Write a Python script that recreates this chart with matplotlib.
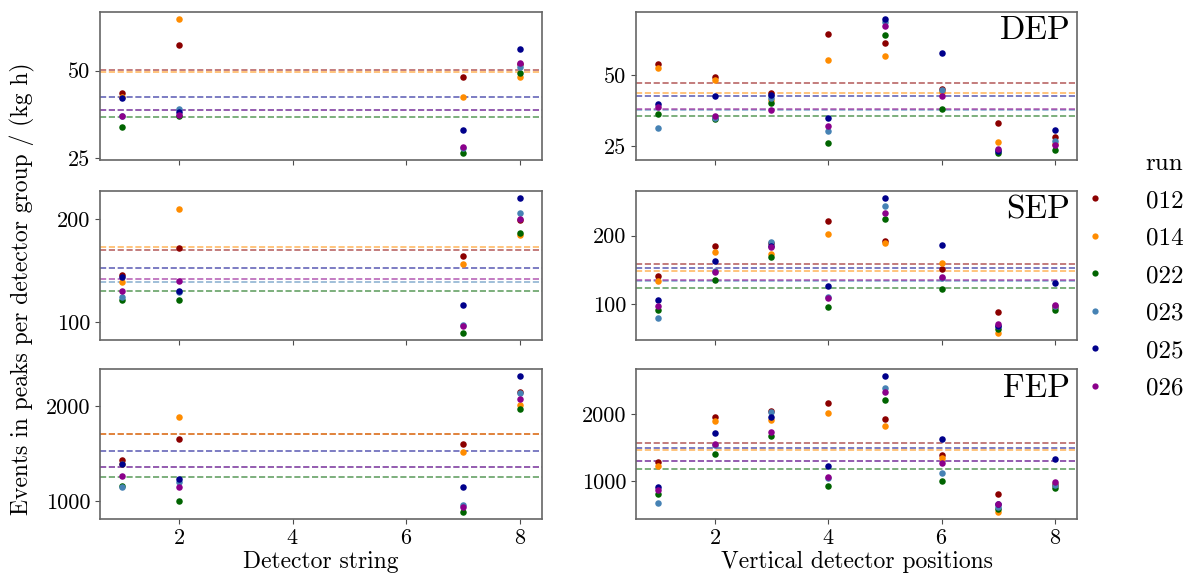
import numpy as np
import matplotlib
matplotlib.use("Agg")
import matplotlib.pyplot as plt
from matplotlib.lines import Line2D

plt.rcParams['font.family'] = 'serif'
plt.rcParams['font.serif'] = ['cmr10']
plt.rcParams['mathtext.fontset'] = 'cm'
plt.rcParams['axes.formatter.use_mathtext'] = True

runs = ['012', '014', '022', '023', '025', '026']
colors = ['#8B0000', '#FF8C00', '#006400', '#4682B4', '#00008B', '#8B008B']

strings = [1, 2, 7, 8]
positions = [1, 2, 3, 4, 5, 6, 7, 8]

# DEP per string
dep_string = {
    '012': [43.6, 57.3, 48.2, 52.0],
    '014': [42.4, 64.8, 42.6, 48.1],
    '022': [34.0, 36.9, 26.4, 49.2],
    '023': [37.0, 39.0, 28.0, 50.9],
    '025': [42.2, 38.1, 32.9, 56.2],
    '026': [37.1, 37.4, 28.2, 52.2],
}
# SEP per string
sep_string = {
    '012': [146.2, 172.3, 164.4, 199.5],
    '014': [139.6, 210.6, 156.4, 184.8],
    '022': [122.1, 121.8, 89.4, 186.8],
    '023': [124.8, 129.6, 97.7, 206.3],
    '025': [143.9, 130.7, 117.2, 221.1],
    '026': [130.7, 140.3, 96.0, 200.0],
}
# FEP per string
fep_string = {
    '012': [1437, 1656, 1599, 2147],
    '014': [1394, 1882, 1516, 2014],
    '022': [1159, 1004, 885, 1968],
    '023': [1151, 1204, 957, 2133],
    '025': [1387, 1237, 1151, 2315],
    '026': [1265, 1151, 943, 2075],
}
# DEP per vertical position
dep_pos = {
    '012': [53.7, 49.2, 43.6, 64.3, 61.2, 45.0, 33.1, 28.2],
    '014': [52.5, 48.3, 41.3, 55.2, 56.5, 43.9, 26.5, 26.0],
    '022': [36.4, 34.4, 40.0, 26.2, 63.8, 38.2, 22.6, 23.8],
    '023': [31.6, 35.0, 42.0, 30.3, 68.4, 44.8, 23.6, 27.0],
    '025': [39.9, 42.6, 42.8, 35.0, 69.6, 57.8, 23.5, 30.7],
    '026': [38.9, 35.7, 37.7, 32.1, 67.1, 42.5, 24.0, 25.6],
}
# SEP per vertical position
sep_pos = {
    '012': [140.9, 185.7, 190.0, 220.7, 192.1, 151.7, 89.7, 96.0],
    '014': [134.5, 175.9, 173.4, 202.5, 189.2, 160.1, 58.1, 97.0],
    '022': [91.6, 135.5, 169.5, 96.6, 223.6, 122.7, 64.5, 91.6],
    '023': [80.3, 148.0, 190.6, 111.3, 242.9, 138.4, 68.0, 97.0],
    '025': [105.9, 162.6, 185.5, 126.1, 255.2, 186.7, 69.0, 131.0],
    '026': [97.5, 147.8, 184.2, 109.9, 233.5, 140.4, 71.9, 99.0],
}
# FEP per vertical position
fep_pos = {
    '012': [1296, 1964, 2051, 2168, 1939, 1398, 806, 946],
    '014': [1224, 1903, 1923, 2015, 1832, 1347, 541, 967],
    '022': [806, 1413, 1673, 929, 2214, 1000, 587, 903],
    '023': [679, 1550, 2036, 1050, 2388, 1122, 622, 953],
    '025': [918, 1719, 1959, 1230, 2577, 1638, 657, 1342],
    '026': [872, 1556, 1735, 1061, 2342, 1276, 663, 995],
}

left_ticks = [[25, 50], [100, 200], [1000, 2000]]
right_ticks = [[25, 50], [100, 200], [1000, 2000]]
peak_names = ['DEP', 'SEP', 'FEP']

fig = plt.figure(figsize=(11.85, 5.77), dpi=100)

W, H = 1185, 577
rows = [(12, 160), (191, 340), (369, 519)]
cols = [(100, 542), (636, 1077)]

def make_ax(col, row):
    x0, x1 = cols[col]
    y0, y1 = rows[row]
    return fig.add_axes([x0 / W, 1 - y1 / H, (x1 - x0) / W, (y1 - y0) / H])

left_data = [dep_string, sep_string, fep_string]
right_data = [dep_pos, sep_pos, fep_pos]

def draw(ax, xs, data, ticks):
    for run, c in zip(runs, colors):
        vals = np.array(data[run], dtype=float)
        ax.scatter(xs, vals, s=22, color=c, zorder=3, linewidths=0)
        ax.axhline(vals.mean(), color=c, ls='--', lw=1.2, alpha=0.6, zorder=2)
    ax.set_yticks(ticks)
    ax.set_yticklabels([str(t) for t in ticks])
    ax.set_xlim(0.61, 8.39)
    ax.set_xticks([2, 4, 6, 8])
    ax.tick_params(labelsize=16, color='0.3', length=3.5)
    for sp in ax.spines.values():
        sp.set_color('0.4')
        sp.set_linewidth(1.2)

for r in range(3):
    axl = make_ax(0, r)
    draw(axl, strings, left_data[r], left_ticks[r])
    axr = make_ax(1, r)
    draw(axr, positions, right_data[r], right_ticks[r])
    axr.text(0.985, 0.97, peak_names[r], transform=axr.transAxes,
             ha='right', va='top', fontsize=24)
    if r < 2:
        axl.set_xticklabels([])
        axr.set_xticklabels([])
    else:
        axl.set_xlabel('Detector string', fontsize=17, labelpad=2)
        axr.set_xlabel('Vertical detector positions', fontsize=17, labelpad=2)

fig.text(0.019, 0.5, 'Events in peaks per detector group / (kg h)',
         rotation=90, ha='center', va='center', fontsize=17)

handles = [Line2D([], [], ls='', marker='o', markersize=4.5, color=c,
                  markeredgewidth=0) for c in colors]
leg = fig.legend(handles, runs, title='run', loc='center left',
                 bbox_to_anchor=(1072 / W, 1 - 276 / H), frameon=False,
                 fontsize=18, title_fontsize=18, labelspacing=0.6,
                 handlelength=1.0, handletextpad=1.55, borderaxespad=0)
leg._legend_box.align = 'right'

fig.savefig('out.png', dpi=100)
